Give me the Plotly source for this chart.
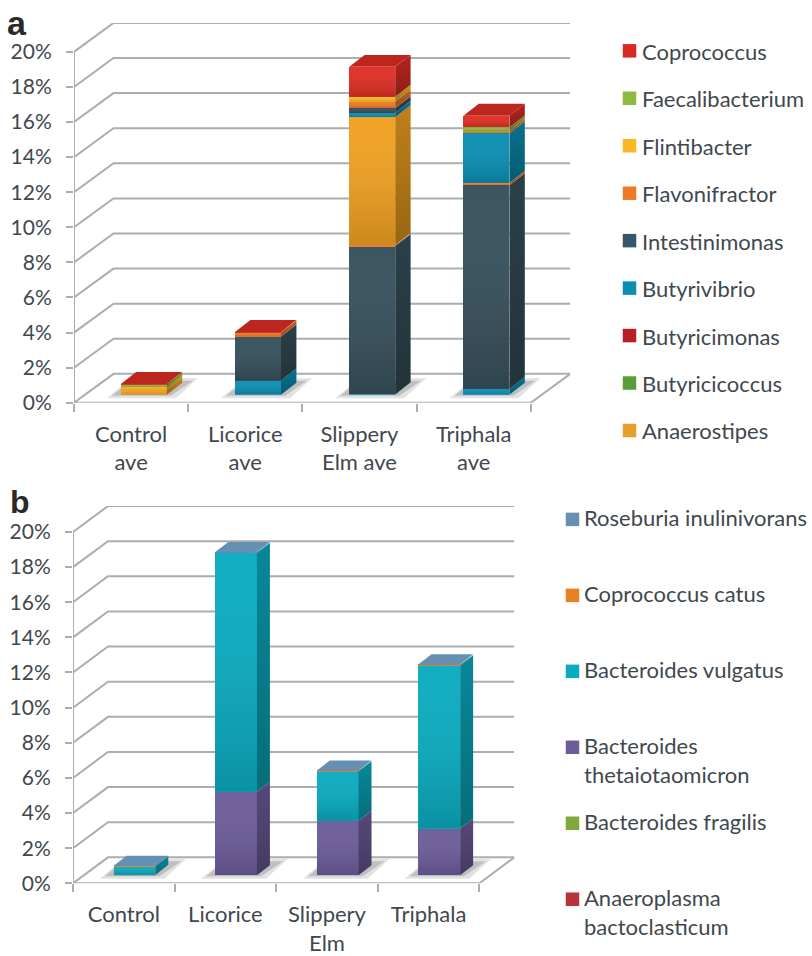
import plotly.graph_objects as go

W, H = 812, 956
Y_FIT = 0.98
TEXT = "#3F484E"
GRID = "#A9AEB2"
FONT = "Lato"

# ---- panel a data (bottom to top of the stack) ----
cats_a = ["Control<br>ave", "Licorice<br>ave", "Slippery<br>Elm ave", "Triphala<br>ave"]
butyrivibrio_low = [0, 0.81, 0.03, 0.34]
intestinimonas_low = [0, 2.51, 8.45, 11.6]
flavonifractor_low = [0, 0, 0.05, 0.13]
anaerostipes = [0.28, 0, 7.29, 0]
butyricicoccus = [0, 0, 0, 0]
butyricimonas = [0, 0, 0, 0]
butyrivibrio = [0, 0, 0.26, 2.83]
intestinimonas = [0, 0, 0.25, 0]
flavonifractor = [0, 0.23, 0.38, 0.15]
flintibacter = [0.15, 0, 0.28, 0]
faecalibacterium = [0.17, 0, 0, 0.19]
coprococcus = [0.02, 0.03, 1.7, 0.66]

series_a = [
    ("Butyrivibrio (low)", "#0A8FB3", butyrivibrio_low),
    ("Intestinimonas (low)", "#36505C", intestinimonas_low),
    ("Flavonifractor (low)", "#EE7A26", flavonifractor_low),
    ("Anaerostipes", "#F0A020", anaerostipes),
    ("Butyricicoccus", "#5A9E3A", butyricicoccus),
    ("Butyricimonas", "#B81F24", butyricimonas),
    ("Butyrivibrio", "#0A8FB3", butyrivibrio),
    ("Intestinimonas", "#36505C", intestinimonas),
    ("Flavonifractor", "#EE7A26", flavonifractor),
    ("Flintibacter", "#FBB626", flintibacter),
    ("Faecalibacterium", "#8DBB3F", faecalibacterium),
    ("Coprococcus", "#E02E24", coprococcus),
]
legend_a = ["Coprococcus", "Faecalibacterium", "Flintibacter", "Flavonifractor", "Intestinimonas",
            "Butyrivibrio", "Butyricimonas", "Butyricicoccus", "Anaerostipes"]
legend_a_colors = ["#D82A22", "#8DBB3F", "#FBB626", "#EE7A26", "#35576A", "#0A8FB3", "#B81F24", "#5A9E3A", "#E69E2C"]

# ---- panel b data ----
cats_b = ["Control", "Licorice", "Slippery<br>Elm", "Triphala"]
anaeroplasma = [0, 0, 0, 0]
fragilis = [0, 0, 0, 0]
thetaiotaomicron = [0.03, 4.76, 3.1, 2.66]
vulgatus = [0.5, 13.6, 2.83, 9.3]
catus = [0.01, 0.02, 0.02, 0.03]
roseburia = [0.01, 0.02, 0.02, 0.02]

series_b = [
    ("Anaeroplasma bactoclasticum", "#B5343A", anaeroplasma),
    ("Bacteroides fragilis", "#7FAA3A", fragilis),
    ("Bacteroides thetaiotaomicron", "#6C5C9A", thetaiotaomicron),
    ("Bacteroides vulgatus", "#0AABC0", vulgatus),
    ("Coprococcus catus", "#E8811F", catus),
    ("Roseburia inulinivorans", "#6690B2", roseburia),
]
legend_b = ["Roseburia inulinivorans", "Coprococcus catus", "Bacteroides vulgatus",
            "Bacteroides<br>thetaiotaomicron", "Bacteroides fragilis", "Anaeroplasma<br>bactoclasticum"]
legend_b_colors = ["#6690B2", "#E8811F", "#0AABC0", "#6C5C9A", "#7FAA3A", "#B5343A"]

y_ticks = list(range(0, 21, 2))
y_labels = [f"{v}%" for v in y_ticks]


def shade(c, f):
    r, g, b = int(c[1:3], 16), int(c[3:5], 16), int(c[5:7], 16)
    return f"rgb({int(r*f)},{int(g*f)},{int(b*f)})"


def fx(px):
    return px / W


def fy(py):
    return 1 - py / (H * Y_FIT)


fig = go.Figure()
layout = {}


def panel(idx, cats, series, legend_names, legend_colors, g, top_f):
    w_, b_, l_ = [str(idx * 3 + k) for k in (1, 2, 3)]
    nm = lambda s: "" if s == "1" else s
    wx, wy = "x" + nm(w_), "y" + nm(w_)
    bx, by = "x" + nm(b_), "y" + nm(b_)
    lx, ly = "x" + nm(l_), "y" + nm(l_)
    ax = lambda a, s: a + "axis" + nm(s)

    unit = g["unit"]
    pct = g["pct"]
    dxu, dyu = g["dx"] / unit, g["dy"] / pct
    x_max, y_max = 4 + dxu, 20 + dyu

    # walls / floor -- a single pair of axes that also holds the tick labels
    layout[ax("x", w_)] = dict(
        domain=[fx(g["x0"]), fx(g["x0"] + unit * x_max)], range=[0, x_max], anchor=wy,
        tickmode="array", tickvals=[0.5, 1.5, 2.5, 3.5], ticktext=cats,
        ticks="", showgrid=False, zeroline=False, showline=False,
        tickfont=dict(family=FONT, size=22, color=TEXT), ticklabelstandoff=g["xstand"], tickangle=0,
        minor=dict(tick0=0, dtick=1, ticks="outside", ticklen=8, tickwidth=2, tickcolor=GRID, showgrid=False),
    )
    layout[ax("y", w_)] = dict(
        domain=[fy(g["y0"]), fy(g["y0"] - pct * y_max)], range=[0, y_max], anchor=wx,
        tickmode="array", tickvals=y_ticks, ticktext=y_labels, ticks="outside", ticklen=7,
        tickwidth=2, tickcolor=GRID, showgrid=False, zeroline=False, showline=False,
        tickfont=dict(family=FONT, size=21, color=TEXT), ticklabelstandoff=g["ystand"],
    )
    # bar plane, shifted into the floor
    layout[ax("x", b_)] = dict(
        domain=[fx(g["x0"] + g["bx"]), fx(g["x0"] + g["bx"] + unit * 4)], range=[0, 4],
        anchor=by, visible=False,
    )
    layout[ax("y", b_)] = dict(
        domain=[fy(g["y0"] - g["by"]), fy(g["y0"] - g["by"] - pct * 20)], range=[0, 20],
        anchor=bx, visible=False,
    )
    # legend axes: one unit = one row
    top = g["ltop"]
    bottom = top + g["lheight"]
    layout[ax("x", l_)] = dict(domain=[fx(g["lx"]), 1], range=[0, W - g["lx"]], anchor=ly, visible=False)
    layout[ax("y", l_)] = dict(domain=[fy(bottom), fy(top)], range=[g["lheight"] / g["lstep"], 0],
                               anchor=lx, visible=False)

    # wall grid
    xs, ys = [], []
    for v in y_ticks:
        xs += [0, dxu, x_max, None]
        ys += [v, v + dyu, v + dyu, None]
    xs += [0, 0, None, 0, 4, x_max]
    ys += [0, 20, None, 0, 0, dyu]
    # shadows
    bw = g["bw"]
    off_x = g["bx"] / unit
    off_y = g["by"] / pct
    for i in range(4):
        L = i + 0.5 - bw / 2 + off_x
        R = i + 0.5 + bw / 2 + off_x
        for grow, col in ((5, "#E2E2E2"), (0, "#BFBFBF")):
            gx = grow / unit
            gy = grow / pct / 2
            fig.add_trace(go.Scatter(
                x=[L - 9 / unit - gx, R + 4 / unit + gx, R + 26 / unit + gx, L + 10 / unit],
                y=[off_y - 1 / pct - gy, off_y - 1 / pct - gy, off_y + 14 / pct + gy, off_y + 14 / pct + gy],
                xaxis=wx, yaxis=wy, mode="lines", line=dict(width=0), fill="toself",
                fillcolor=col, hoverinfo="skip", showlegend=False))
    fig.add_trace(go.Scatter(x=xs, y=ys, xaxis=wx, yaxis=wy, mode="lines", cliponaxis=False,
                             line=dict(color=GRID, width=2), hoverinfo="skip", showlegend=False))

    # bars (front faces)
    x_pos = [0.5, 1.5, 2.5, 3.5]
    for name, color, vals in series:
        fig.add_trace(go.Bar(x=x_pos, y=vals, width=bw, name=name, xaxis=bx, yaxis=by,
                             marker=dict(color=color, line=dict(width=0)), showlegend=False))

    # depth: side faces, gradients and tops, derived from the stacked values
    ddx, ddy = g["ddx"] / unit, g["ddy"] / pct
    tops = [0, 0, 0, 0]
    last = [None] * 4
    for name, color, vals in series:
        for i, v in enumerate(vals):
            if v <= 0:
                continue
            b, t = tops[i], tops[i] + v
            L, R = x_pos[i] - bw / 2, x_pos[i] + bw / 2
            fig.add_trace(go.Scatter(
                x=[L, R, R, L], y=[b, b, t, t], xaxis=bx, yaxis=by, mode="lines", line=dict(width=0),
                fill="toself", hoverinfo="skip", showlegend=False,
                fillgradient=dict(type="vertical", colorscale=[[0, "rgba(0,0,0,0.15)"], [1, "rgba(255,255,255,0.03)"]])))
            fig.add_trace(go.Scatter(
                x=[R, R + ddx, R + ddx, R], y=[b, b + ddy, t + ddy, t], xaxis=bx, yaxis=by, mode="lines",
                line=dict(width=0), fill="toself", hoverinfo="skip", showlegend=False,
                fillgradient=dict(type="vertical", colorscale=[[0, shade(color, 0.64)], [1, shade(color, 0.8)]])))
            tops[i] = t
            last[i] = color
    for i in range(4):
        L, R = x_pos[i] - bw / 2, x_pos[i] + bw / 2
        t = tops[i]
        fig.add_trace(go.Scatter(
            x=[L, R, R + ddx, L + ddx], y=[t, t, t + ddy, t + ddy], xaxis=bx, yaxis=by, mode="lines",
            line=dict(width=0), fill="toself", fillcolor=shade(last[i], top_f), hoverinfo="skip", showlegend=False))

    # legend: swatches and labels on their own axes
    n = len(legend_names)
    rows = list(range(n))
    text_rows = [r + (g["ltext"] + (14.3 if "<br>" in s else 0)) / g["lstep"] for r, s in zip(rows, legend_names)]
    fig.add_trace(go.Scatter(
        x=[g["lm"] - g["lx"]] * n, y=rows, xaxis=lx, yaxis=ly, mode="markers",
        marker=dict(symbol="square", size=13.5, color=legend_colors, line=dict(width=0)),
        hoverinfo="skip", showlegend=False, cliponaxis=False))
    fig.add_trace(go.Scatter(
        x=[g["lt"] - g["lx"]] * n, y=text_rows, xaxis=lx, yaxis=ly, mode="text",
        text=legend_names, textposition="middle right",
        textfont=dict(family=FONT, size=22, color=TEXT), hoverinfo="skip", showlegend=False, cliponaxis=False))


panel(0, cats_a, series_a, legend_a, legend_a_colors,
      dict(x0=74, y0=404, unit=114.2, pct=17.6, dx=39.5, dy=29, bx=12.7, by=8, bw=0.403, ddx=15.4, ddy=12,
           xstand=16, ystand=10, lx=600, lm=629.5, lt=642, ltop=51, lheight=400, lstep=47.6, ltext=3.5), 0.84)
panel(1, cats_b, series_b, legend_b, legend_b_colors,
      dict(x0=73, y0=886, unit=101.6, pct=17.62, dx=35, dy=26, bx=10.7, by=8, bw=0.41, ddx=13, ddy=10,
           xstand=16, ystand=10, lx=540, lm=572.5, lt=584, ltop=521, lheight=410, lstep=76.2, ltext=1.5), 1.0)

ann = [
    dict(text="<b>a</b>", x=fx(5), y=fy(23), xref="paper", yref="paper", xanchor="left", yanchor="middle",
         showarrow=False, font=dict(family="Liberation Sans", size=34, color="#2A2A2A")),
    dict(text="<b>b</b>", x=fx(8), y=fy(504), xref="paper", yref="paper", xanchor="left", yanchor="middle",
         showarrow=False, font=dict(family="Liberation Sans", size=32, color="#2A2A2A")),
]

fig.update_layout(width=W, height=H, margin=dict(l=0, r=0, t=0, b=0), autosize=False,
                  paper_bgcolor="white", plot_bgcolor="rgba(0,0,0,0)", barmode="stack",
                  showlegend=False, annotations=ann, **layout)
fig.write_html("out.html", post_script="document.body.style.margin='0';",
               config=dict(displayModeBar=False))
